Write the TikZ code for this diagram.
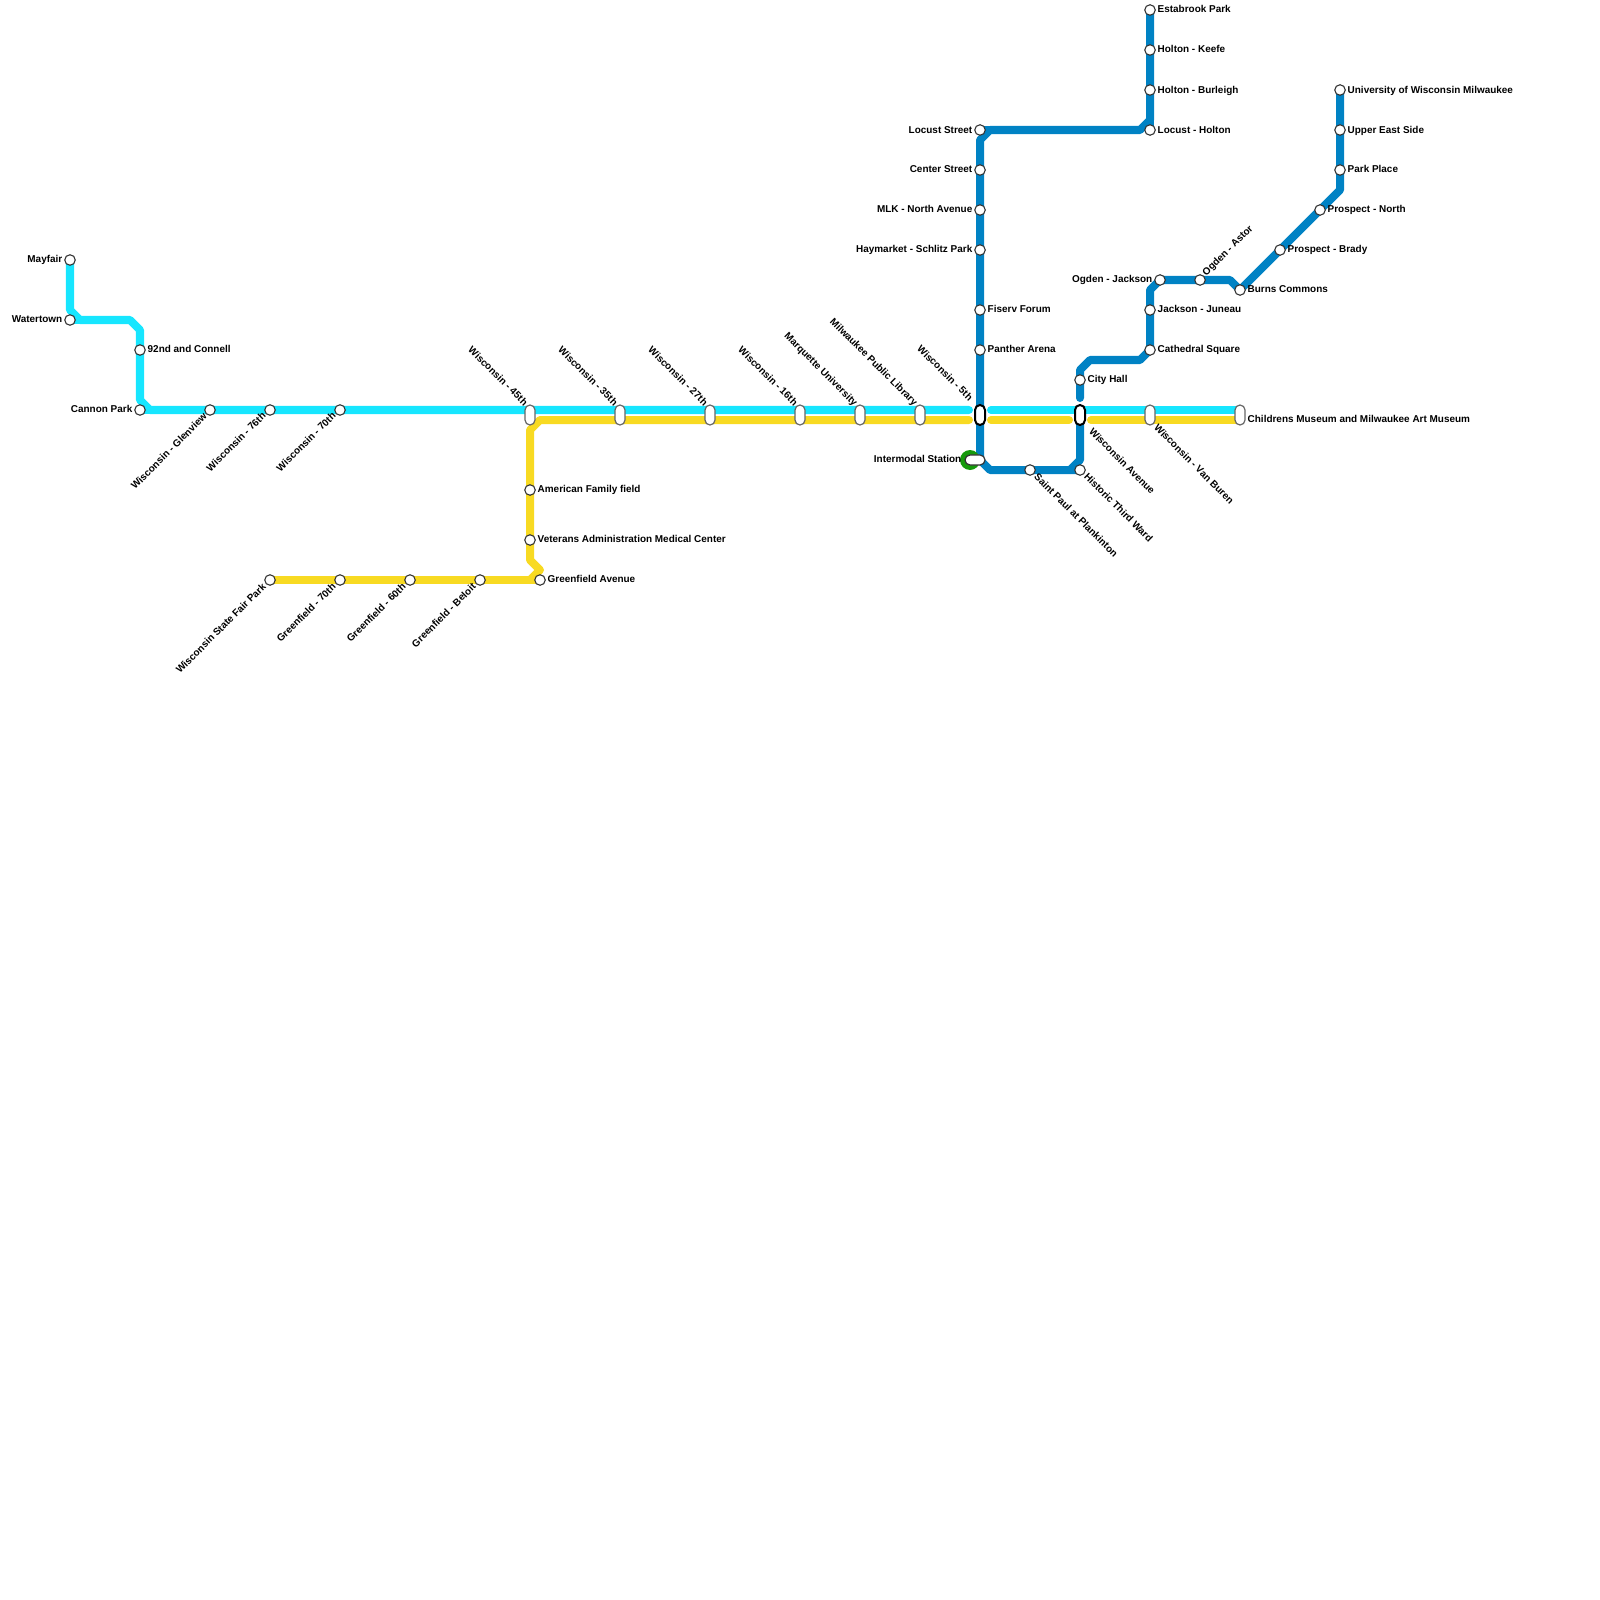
\documentclass[tikz,border=0pt]{standalone}
\usepackage{fontspec}
\setmainfont{Liberation Sans}
\usepackage{tikz}
\usetikzlibrary{backgrounds}
\definecolor{cyanline}{HTML}{17E6FF}
\definecolor{goldline}{HTML}{F8DA22}
\definecolor{blueline}{HTML}{0082C4}
\definecolor{greenring}{HTML}{169A0C}
\definecolor{pillgrey}{HTML}{666666}
\tikzset{
    stop/.style={circle, draw=black!80, fill=white, line width=0.011cm, inner sep=0pt, minimum size=0.105cm},
    pill/.style={rectangle, draw=pillgrey, fill=white, line width=0.012cm, rounded corners=0.05cm, inner sep=0pt, minimum width=0.1cm, minimum height=0.2cm},
    hub/.style={pill, draw=black, line width=0.02cm},
    metro/.style={line width=0.08cm, line cap=round, line join=round},
    lbl/.style={font=\fontsize{2.83pt}{3.2pt}\selectfont\bfseries, inner sep=0pt, text=black, text height=0.075cm, text depth=0.02cm}
}
\begin{document}
\begin{tikzpicture}[x=0.01cm, y=-0.01cm]
    \useasboundingbox (0,0) rectangle (1600,1600);

    % West branch
    \node[stop] (mayfair) at (70,260) {};
    \node[stop] (watertown) at (70,320) {};
    \node[stop] (connell) at (140,350) {};
    \node[stop] (cannon) at (140,410) {};
    \node[stop] (glenview) at (210,410) {};
    \node[stop] (wis76) at (270,410) {};
    \node[stop] (wis70) at (340,410) {};

    % Greenfield branch
    \node[stop] (fairpark) at (270,580) {};
    \node[stop] (green70) at (340,580) {};
    \node[stop] (green60) at (410,580) {};
    \node[stop] (beloit) at (480,580) {};
    \node[stop] (greenave) at (540,580) {};
    \node[stop] (veterans) at (530,540) {};
    \node[stop] (amfam) at (530,490) {};

    % Wisconsin Avenue stops
    \node[pill] (wis45) at (530,415) {};
    \node[pill] (wis35) at (620,415) {};
    \node[pill] (wis27) at (710,415) {};
    \node[pill] (wis16) at (800,415) {};
    \node[pill] (marquette) at (860,415) {};
    \node[pill] (library) at (920,415) {};
    \node[hub] (wis5) at (980,415) {};
    \node[hub] (wisave) at (1080,415) {};
    \node[pill] (vanburen) at (1150,415) {};
    \node[pill] (childrens) at (1240,415) {};

    % North and downtown
    \node[stop] (estabrook) at (1150,10) {};
    \node[stop] (keefe) at (1150,50) {};
    \node[stop] (burleigh) at (1150,90) {};
    \node[stop] (locustholton) at (1150,130) {};
    \node[stop] (locust) at (980,130) {};
    \node[stop] (center) at (980,170) {};
    \node[stop] (mlk) at (980,210) {};
    \node[stop] (haymarket) at (980,250) {};
    \node[stop] (fiserv) at (980,310) {};
    \node[stop] (panther) at (980,350) {};
    \node[stop] (stpaul) at (1030,470) {};
    \node[stop] (thirdward) at (1080,470) {};
    \node[stop] (cityhall) at (1080,380) {};
    \node[stop] (cathedral) at (1150,350) {};
    \node[stop] (juneau) at (1150,310) {};
    \node[stop] (jackson) at (1160,280) {};
    \node[stop] (astor) at (1200,280) {};
    \node[stop] (burns) at (1240,290) {};
    \node[stop] (brady) at (1280,250) {};
    \node[stop] (north) at (1320,210) {};
    \node[stop] (parkplace) at (1340,170) {};
    \node[stop] (eastside) at (1340,130) {};
    \node[stop] (uwm) at (1340,90) {};

    % Intermodal
    \fill[greenring] (970,460) circle (10);
    \node[pill, draw=black!80, minimum width=0.2cm, minimum height=0.1cm] (intermodal) at (975,460) {};

    % Lines, under the stops
    \begin{scope}[on background layer]
        \draw[metro, goldline] (fairpark.center) -- (greenave.center);
        \draw[metro, goldline] (530,580) -- ++(10,-10) -- ++(-10,-10) -- (amfam.center) -- (wis45.center |- 0,430) -- ++(10,-10) -- (969,420);
        \draw[metro, goldline] (991,420) -- (1069,420);
        \draw[metro, goldline] (1091,420) -- (childrens.center |- 0,420);

        \draw[metro, cyanline] (mayfair.center) -- ++(0,50) -- ++(10,10) -- ++(50,0) -- ++(10,10) -- (cannon.center |- 0,400) -- ++(10,10) -- (969,410);
        \draw[metro, cyanline] (watertown.center) -- ++(10,0);
        \draw[metro, cyanline] (cannon.center) -- ++(10,0);
        \draw[metro, cyanline] (991,410) -- (childrens.center |- 0,410);

        \draw[metro, blueline] (estabrook.center) -- ++(0,110) -- ++(-10,10) -- (990,130) -- (980,140) -- (wis5.center) -- (980,460) -- ++(10,10) -- (thirdward.center);
        \draw[metro, blueline] (locust.center) -- ++(10,0);
        \draw[metro, blueline] (estabrook.center) -- (locustholton.center);
        \draw[metro, blueline] (1070,470) -- ++(10,-10) -- (1080,425);
        \draw[metro, blueline] (1080,398) -- (cityhall.center) -- ++(0,-10) -- ++(10,-10) -- ++(50,0) -- (cathedral.center) -- (juneau.center) -- ++(0,-20) -- ++(10,-10) -- (astor.center) -- ++(30,0) -- (burns.center) -- (north.center) -- ++(20,-20) -- (uwm.center);
    \end{scope}

    % Labels on the right
    \node[lbl, anchor=west] (connell-l) at (147,349.25) {92nd and Connell};
    \node[lbl, anchor=west] (amfam-l) at (537,489.25) {American Family field};
    \node[lbl, anchor=west] (veterans-l) at (537,539.25) {Veterans Administration Medical Center};
    \node[lbl, anchor=west] (greenave-l) at (547,579.25) {Greenfield Avenue};
    \node[lbl, anchor=west] (estabrook-l) at (1157,10.25) {Estabrook Park};
    \node[lbl, anchor=west] (keefe-l) at (1157,50.25) {Holton - Keefe};
    \node[lbl, anchor=west] (burleigh-l) at (1157,90.25) {Holton - Burleigh};
    \node[lbl, anchor=west] (locustholton-l) at (1157,130.25) {Locust - Holton};
    \node[lbl, anchor=west] (fiserv-l) at (987,309.25) {Fiserv Forum};
    \node[lbl, anchor=west] (panther-l) at (987,349.25) {Panther Arena};
    \node[lbl, anchor=west] (cityhall-l) at (1087,379.25) {City Hall};
    \node[lbl, anchor=west] (juneau-l) at (1157,309.25) {Jackson - Juneau};
    \node[lbl, anchor=west] (cathedral-l) at (1157,349.25) {Cathedral Square};
    \node[lbl, anchor=west] (burns-l) at (1247,289.25) {Burns Commons};
    \node[lbl, anchor=west] (brady-l) at (1287,249.25) {Prospect - Brady};
    \node[lbl, anchor=west] (north-l) at (1327,209.25) {Prospect - North};
    \node[lbl, anchor=west] (parkplace-l) at (1347,169.25) {Park Place};
    \node[lbl, anchor=west] (eastside-l) at (1347,130.25) {Upper East Side};
    \node[lbl, anchor=west] (uwm-l) at (1347,90.25) {University of Wisconsin Milwaukee};
    \node[lbl, anchor=west] (childrens-l) at (1247,419.25) {Childrens Museum and Milwaukee Art Museum};

    % Labels on the left
    \node[lbl, anchor=east] (mayfair-l) at (63,259.25) {Mayfair};
    \node[lbl, anchor=east] (watertown-l) at (63,319.25) {Watertown};
    \node[lbl, anchor=east] (cannon-l) at (133,409.25) {Cannon Park};
    \node[lbl, anchor=east] (locust-l) at (973,130.25) {Locust Street};
    \node[lbl, anchor=east] (center-l) at (973,169.25) {Center Street};
    \node[lbl, anchor=east] (mlk-l) at (973,209.25) {MLK - North Avenue};
    \node[lbl, anchor=east] (haymarket-l) at (973,249.25) {Haymarket - Schlitz Park};
    \node[lbl, anchor=east] (jackson-l) at (1153,279.25) {Ogden - Jackson};
    \node[lbl, anchor=east] (intermodal-l) at (962,459.25) {Intermodal Station};

    % Slanted labels, lower left
    \node[lbl, anchor=east, rotate=45] (glenview-l) at (206,415) {Wisconsin - Glenview};
    \node[lbl, anchor=east, rotate=45] (wis76-l) at (265,414) {Wisconsin - 76th};
    \node[lbl, anchor=east, rotate=45] (wis70-l) at (335,414) {Wisconsin - 70th};
    \node[lbl, anchor=east, rotate=45] (fairpark-l) at (265,585) {Wisconsin State Fair Park};
    \node[lbl, anchor=east, rotate=45] (green70-l) at (335,585) {Greenfield - 70th};
    \node[lbl, anchor=east, rotate=45] (green60-l) at (405,585) {Greenfield - 60th};
    \node[lbl, anchor=east, rotate=45] (beloit-l) at (475,585) {Greenfield - Beloit};

    % Slanted labels, upper left
    \node[lbl, anchor=east, rotate=-45] (wis45-l) at (526,405) {Wisconsin - 45th};
    \node[lbl, anchor=east, rotate=-45] (wis35-l) at (616,405) {Wisconsin - 35th};
    \node[lbl, anchor=east, rotate=-45] (wis27-l) at (706,405) {Wisconsin - 27th};
    \node[lbl, anchor=east, rotate=-45] (wis16-l) at (796,405) {Wisconsin - 16th};
    \node[lbl, anchor=east, rotate=-45] (marquette-l) at (856,405) {Marquette University};
    \node[lbl, anchor=east, rotate=-45] (library-l) at (916,405) {Milwaukee Public Library};
    \node[lbl, anchor=east, rotate=-45] (wis5-l) at (971,400) {Wisconsin - 5th};

    % Slanted labels, lower right
    \node[lbl, anchor=west, rotate=-45] (wisave-l) at (1090,430) {Wisconsin Avenue};
    \node[lbl, anchor=west, rotate=-45] (vanburen-l) at (1155,426) {Wisconsin - Van Buren};
    \node[lbl, anchor=west, rotate=-45] (stpaul-l) at (1035,475) {Saint Paul at Plankinton};
    \node[lbl, anchor=west, rotate=-45] (thirdward-l) at (1085,475) {Historic Third Ward};

    % Slanted label, upper right
    \node[lbl, anchor=west, rotate=45] (astor-l) at (1204,275) {Ogden - Astor};
\end{tikzpicture}
\end{document}
